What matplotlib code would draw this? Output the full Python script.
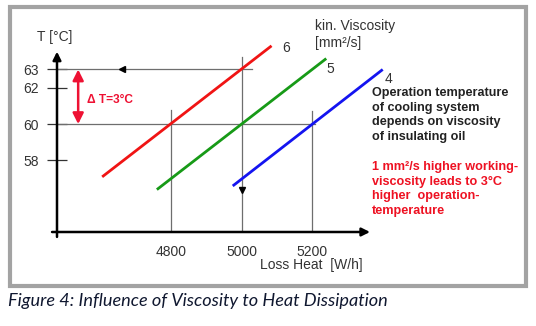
import matplotlib
matplotlib.use("Agg")
import matplotlib.pyplot as plt
from matplotlib.patches import Rectangle

# data
visc_labels = ["6", "5", "4"]
red_x = [4605, 5085]
red_t = [57.1, 64.3]
green_x = [4760, 5240]
green_t = [56.4, 63.6]
blue_x = [4975, 5400]
blue_t = [56.6, 63.0]
yticks = [58, 60, 62, 63]
xticks = [4800, 5000, 5200]

W, H = 536, 326
plt.rcParams["font.family"] = ["Liberation Sans", "DejaVu Sans"]

fig = plt.figure(figsize=(W / 100, H / 100), dpi=100)


def fx(x):
    return x / W


def fy(y):
    return 1 - y / H


# frame
fig.patches.append(Rectangle((fx(10), fy(286)), fx(516), fy(7) - fy(286),
                             transform=fig.transFigure, fill=False,
                             edgecolor="#a3a3a3", lw=3.0))

ax = fig.add_axes([fx(57), fy(232), fx(400 - 57), fy(40) - fy(232)])
xmin, xmax = 4477, 5449
tmin, tmax = 54.07, 64.62
ax.set_xlim(xmin, xmax)
ax.set_ylim(tmin, tmax)
for s in ax.spines.values():
    s.set_visible(False)
ax.patch.set_alpha(0)

# guide lines
gc = "#6e6e6e"
ax.plot([4449, 5029], [63, 63], color=gc, lw=0.9)
ax.plot([4449, 5208], [60, 60], color=gc, lw=0.9)
ax.plot([4800, 4800], [tmin, 60.77], color=gc, lw=0.9)
ax.plot([5000, 5000], [tmin, 63.68], color=gc, lw=0.9)
ax.plot([5200, 5200], [tmin, 60.71], color=gc, lw=0.9)
ax.plot([4661], [63], marker="<", color="black", ms=4.5)
ax.plot([5000], [56.37], marker="v", color="black", ms=4.5)

# viscosity lines
ax.plot(red_x, red_t, color="#f01414", lw=2.0, solid_capstyle="butt", clip_on=False)
ax.plot(green_x, green_t, color="#179a17", lw=2.0, solid_capstyle="butt", clip_on=False)
ax.plot(blue_x, blue_t, color="#1414f0", lw=2.0, solid_capstyle="butt", clip_on=False)
ax.text(5116, 64.2, visc_labels[0], fontsize=10, color="#333333", va="center")
ax.text(5240, 63.0, visc_labels[1], fontsize=10, color="#333333", va="center")
ax.text(5405, 62.5, visc_labels[2], fontsize=10, color="#333333", va="center")

# axes with arrows
ax.annotate("", xy=(xmin, 63.98), xytext=(xmin, 53.8),
            arrowprops=dict(arrowstyle="-|>", color="black", lw=1.8,
                            mutation_scale=12, shrinkA=0, shrinkB=0),
            annotation_clip=False)
ax.annotate("", xy=(5364, tmin), xytext=(4463, tmin),
            arrowprops=dict(arrowstyle="-|>", color="black", lw=1.8,
                            mutation_scale=12, shrinkA=0, shrinkB=0),
            annotation_clip=False)

# delta T arrow
ax.annotate("", xy=(4537, 63), xytext=(4537, 60),
            arrowprops=dict(arrowstyle="<|-|>", color="#ee1133", lw=1.8,
                            mutation_scale=16, shrinkA=0, shrinkB=0))
ax.text(4562, 61.35, "\u0394 T=3\u00b0C", color="#ee1133", fontsize=8.6,
        fontweight="bold", va="center")

ax.set_yticks(yticks)
ax.set_yticklabels([str(t) for t in yticks])
ax.set_xticks(xticks)
ax.set_xticklabels([str(t) for t in xticks])
ax.tick_params(axis="y", direction="inout", length=14.5, width=0.9,
               color="#333333", labelsize=10, pad=6, labelcolor="#333333")
ax.tick_params(axis="x", length=0, labelsize=10, pad=9, labelcolor="#333333")

# texts
fig.text(fx(37), fy(37), "T [\u00b0C]", fontsize=10, color="#333333", va="center")
fig.text(fx(363), fy(265), "Loss Heat  [W/h]", fontsize=10, color="#333333",
         va="center", ha="right")
fig.text(fx(315), fy(26), "kin. Viscosity", fontsize=10, color="#333333", va="center")
fig.text(fx(315), fy(43), "[mm\u00b2/s]", fontsize=10, color="#333333", va="center")

black_lines = ["Operation temperature", "of cooling system",
               "depends on viscosity", "of insulating oil"]
for i, s in enumerate(black_lines):
    fig.text(fx(372), fy(93 + i * 14.7), s, fontsize=9.1, fontweight="bold",
             color="#222222", va="center")

red_lines = ["1 mm\u00b2/s higher working-", "viscosity leads to 3\u00b0C",
             "higher  operation-", "temperature"]
for i, s in enumerate(red_lines):
    fig.text(fx(372), fy(167 + i * 14.7), s, fontsize=9.1, fontweight="bold",
             color="#ee1122", va="center")

fig.text(fx(8), fy(301), "Figure 4: Influence of Viscosity to Heat Dissipation",
         fontsize=13.1, style="italic", family=["Lato", "DejaVu Sans"],
         color="#101830", va="center")

fig.savefig("out.png", dpi=100)
